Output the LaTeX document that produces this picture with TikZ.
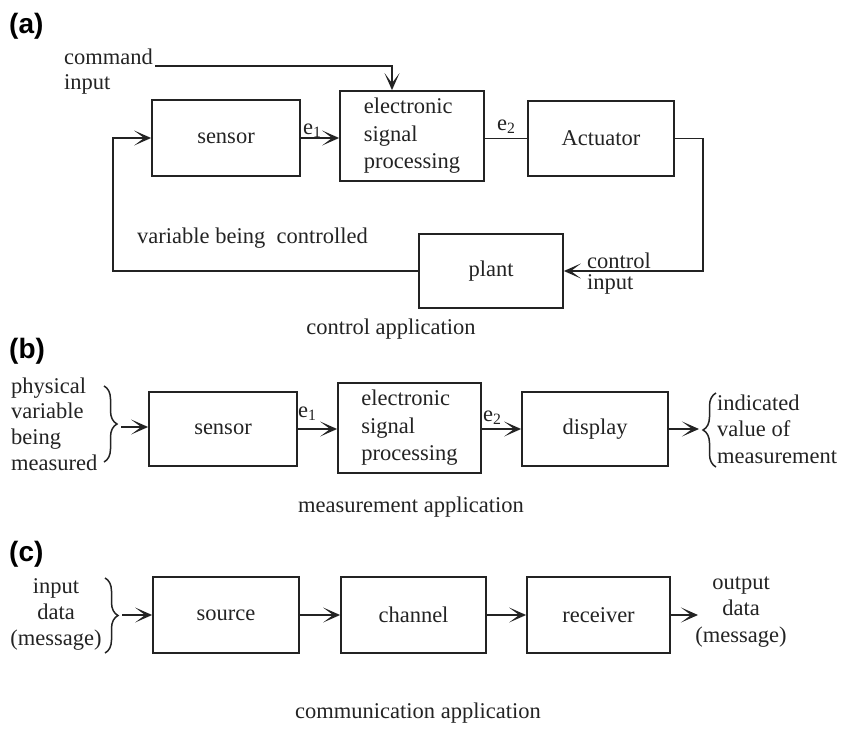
\documentclass[tikz,border=0pt]{standalone}
\usepackage{fontspec}
\setmainfont{Liberation Serif}
\newfontfamily\labfont{Liberation Sans}
\usetikzlibrary{arrows.meta,decorations.pathreplacing}
\definecolor{ink}{RGB}{35,35,35}
\begin{document}
\begin{tikzpicture}[x=1pt,y=-1pt,
  every node/.style={font=\fontsize{22.5}{26}\selectfont, text=ink, inner sep=0pt},
  blk/.style={draw=ink, line width=1.8pt, align=center},
  ln/.style={draw=ink, line width=1.8pt},
  arr/.style={ln, -{Stealth[length=17pt,width=15pt,inset=10pt]}},
  brc/.style={draw=ink, line width=1.5pt, decorate, decoration={brace, amplitude=13pt}},
  lab/.style={font=\labfont\bfseries\fontsize{28}{32}\selectfont, text=black}]
\useasboundingbox (0,0) rectangle (841,731);

% ---------------- (a) ----------------
\node[lab, anchor=base west] (la) at (9,33) {(a)};
\node[anchor=base west] (cmd) at (64,64) {command};
\node[anchor=base west] (cmdi) at (64,89) {input};
\node[blk, minimum width=148pt, minimum height=76pt] (sensA) at (226,138) {sensor};
\node[blk, minimum width=144pt, minimum height=90pt, align=left] (espA) at (412,136)
  {electronic\\[1.5pt]signal\\[1.5pt]processing};
\node[blk, minimum width=146pt, minimum height=75pt] (actA) at (601,138.5) {Actuator};
\node[blk, minimum width=144pt, minimum height=74pt] (plantA) at (491,271) {plant};
\node[anchor=base west] (e1a) at (303,134) {e\textsubscript{1}};
\node[anchor=base west] (e2a) at (497,130) {e\textsubscript{2}};
\node[anchor=base west] (vbc) at (137,243) {variable being\ \ controlled};
\node[anchor=base west] (ctl) at (587,268) {control};
\node[anchor=base west] (ctli) at (587,289) {input};
\node[anchor=base] (capA) at (391,334) {control application};

\draw[arr] ([xshift=2pt,yshift=-2pt]cmd.base east) -| ([xshift=-20pt]espA.north);
\draw[arr] (sensA.east) -- (sensA.east -| espA.west);
\draw[ln] (espA.east |- actA.west) -- (actA.west);
\draw[arr] (actA.east) -| (703,271) -- (plantA.east);
\draw[arr] (plantA.west) -| (113,138) -- (sensA.west);

% ---------------- (b) ----------------
\node[lab, anchor=base west] (lb) at (9,358) {(b)};
\node[anchor=west, align=left, font=\fontsize{22.5}{25.7}\selectfont] (physB) at (11,424)
  {physical\\variable\\being\\measured};
\node[blk, minimum width=148pt, minimum height=74pt] (sensB) at (223,429) {sensor};
\node[blk, minimum width=143pt, minimum height=90pt, align=left] (espB) at (409.5,428)
  {electronic\\[1.5pt]signal\\[1.5pt]processing};
\node[blk, minimum width=146pt, minimum height=74pt] (dispB) at (595,429) {display};
\node[anchor=base west] (e1b) at (298,417) {e\textsubscript{1}};
\node[anchor=base west] (e2b) at (483,421) {e\textsubscript{2}};
\node[anchor=west, align=left, font=\fontsize{22.5}{26.5}\selectfont] (indB) at (717,429)
  {indicated\\value of\\measurement};
\node[anchor=base] (capB) at (411,512) {measurement application};

\draw[brc] (104,386) -- (104,462);
\coordinate (tipBL) at (121,427);
\draw[arr] (tipBL) -- (tipBL -| sensB.west);
\draw[arr] (sensB.east) -- (sensB.east -| espB.west);
\draw[arr] (espB.east |- dispB.west) -- (dispB.west);
\coordinate (tipBR) at (699,429);
\draw[arr] (dispB.east) -- (tipBR);
\draw[brc] (716,467) -- (716,393);

% ---------------- (c) ----------------
\node[lab, anchor=base west] (lc) at (9,561) {(c)};
\node[align=center, font=\fontsize{22.5}{26}\selectfont] (inC) at (56,614)
  {input\\data\\(message)};
\node[blk, minimum width=146pt, minimum height=76pt] (srcC) at (226,615) {source};
\node[blk, minimum width=145pt, minimum height=76pt] (chC) at (413.5,615) {channel};
\node[blk, minimum width=143pt, minimum height=76pt] (rcvC) at (598.5,615) {receiver};
\node[align=center, font=\fontsize{22.5}{26.5}\selectfont] (outC) at (741,612)
  {output\\data\\(message)};
\node[anchor=base] (capC) at (418,718) {communication application};

\draw[brc] (105,578) -- (105,653);
\coordinate (tipCL) at (122,615);
\draw[arr] (tipCL) -- (srcC.west);
\draw[arr] (srcC.east) -- (chC.west);
\draw[arr] (chC.east) -- (rcvC.west);
\coordinate (tipCR) at (698,615);
\draw[arr] (rcvC.east) -- (tipCR);
\end{tikzpicture}
\end{document}
